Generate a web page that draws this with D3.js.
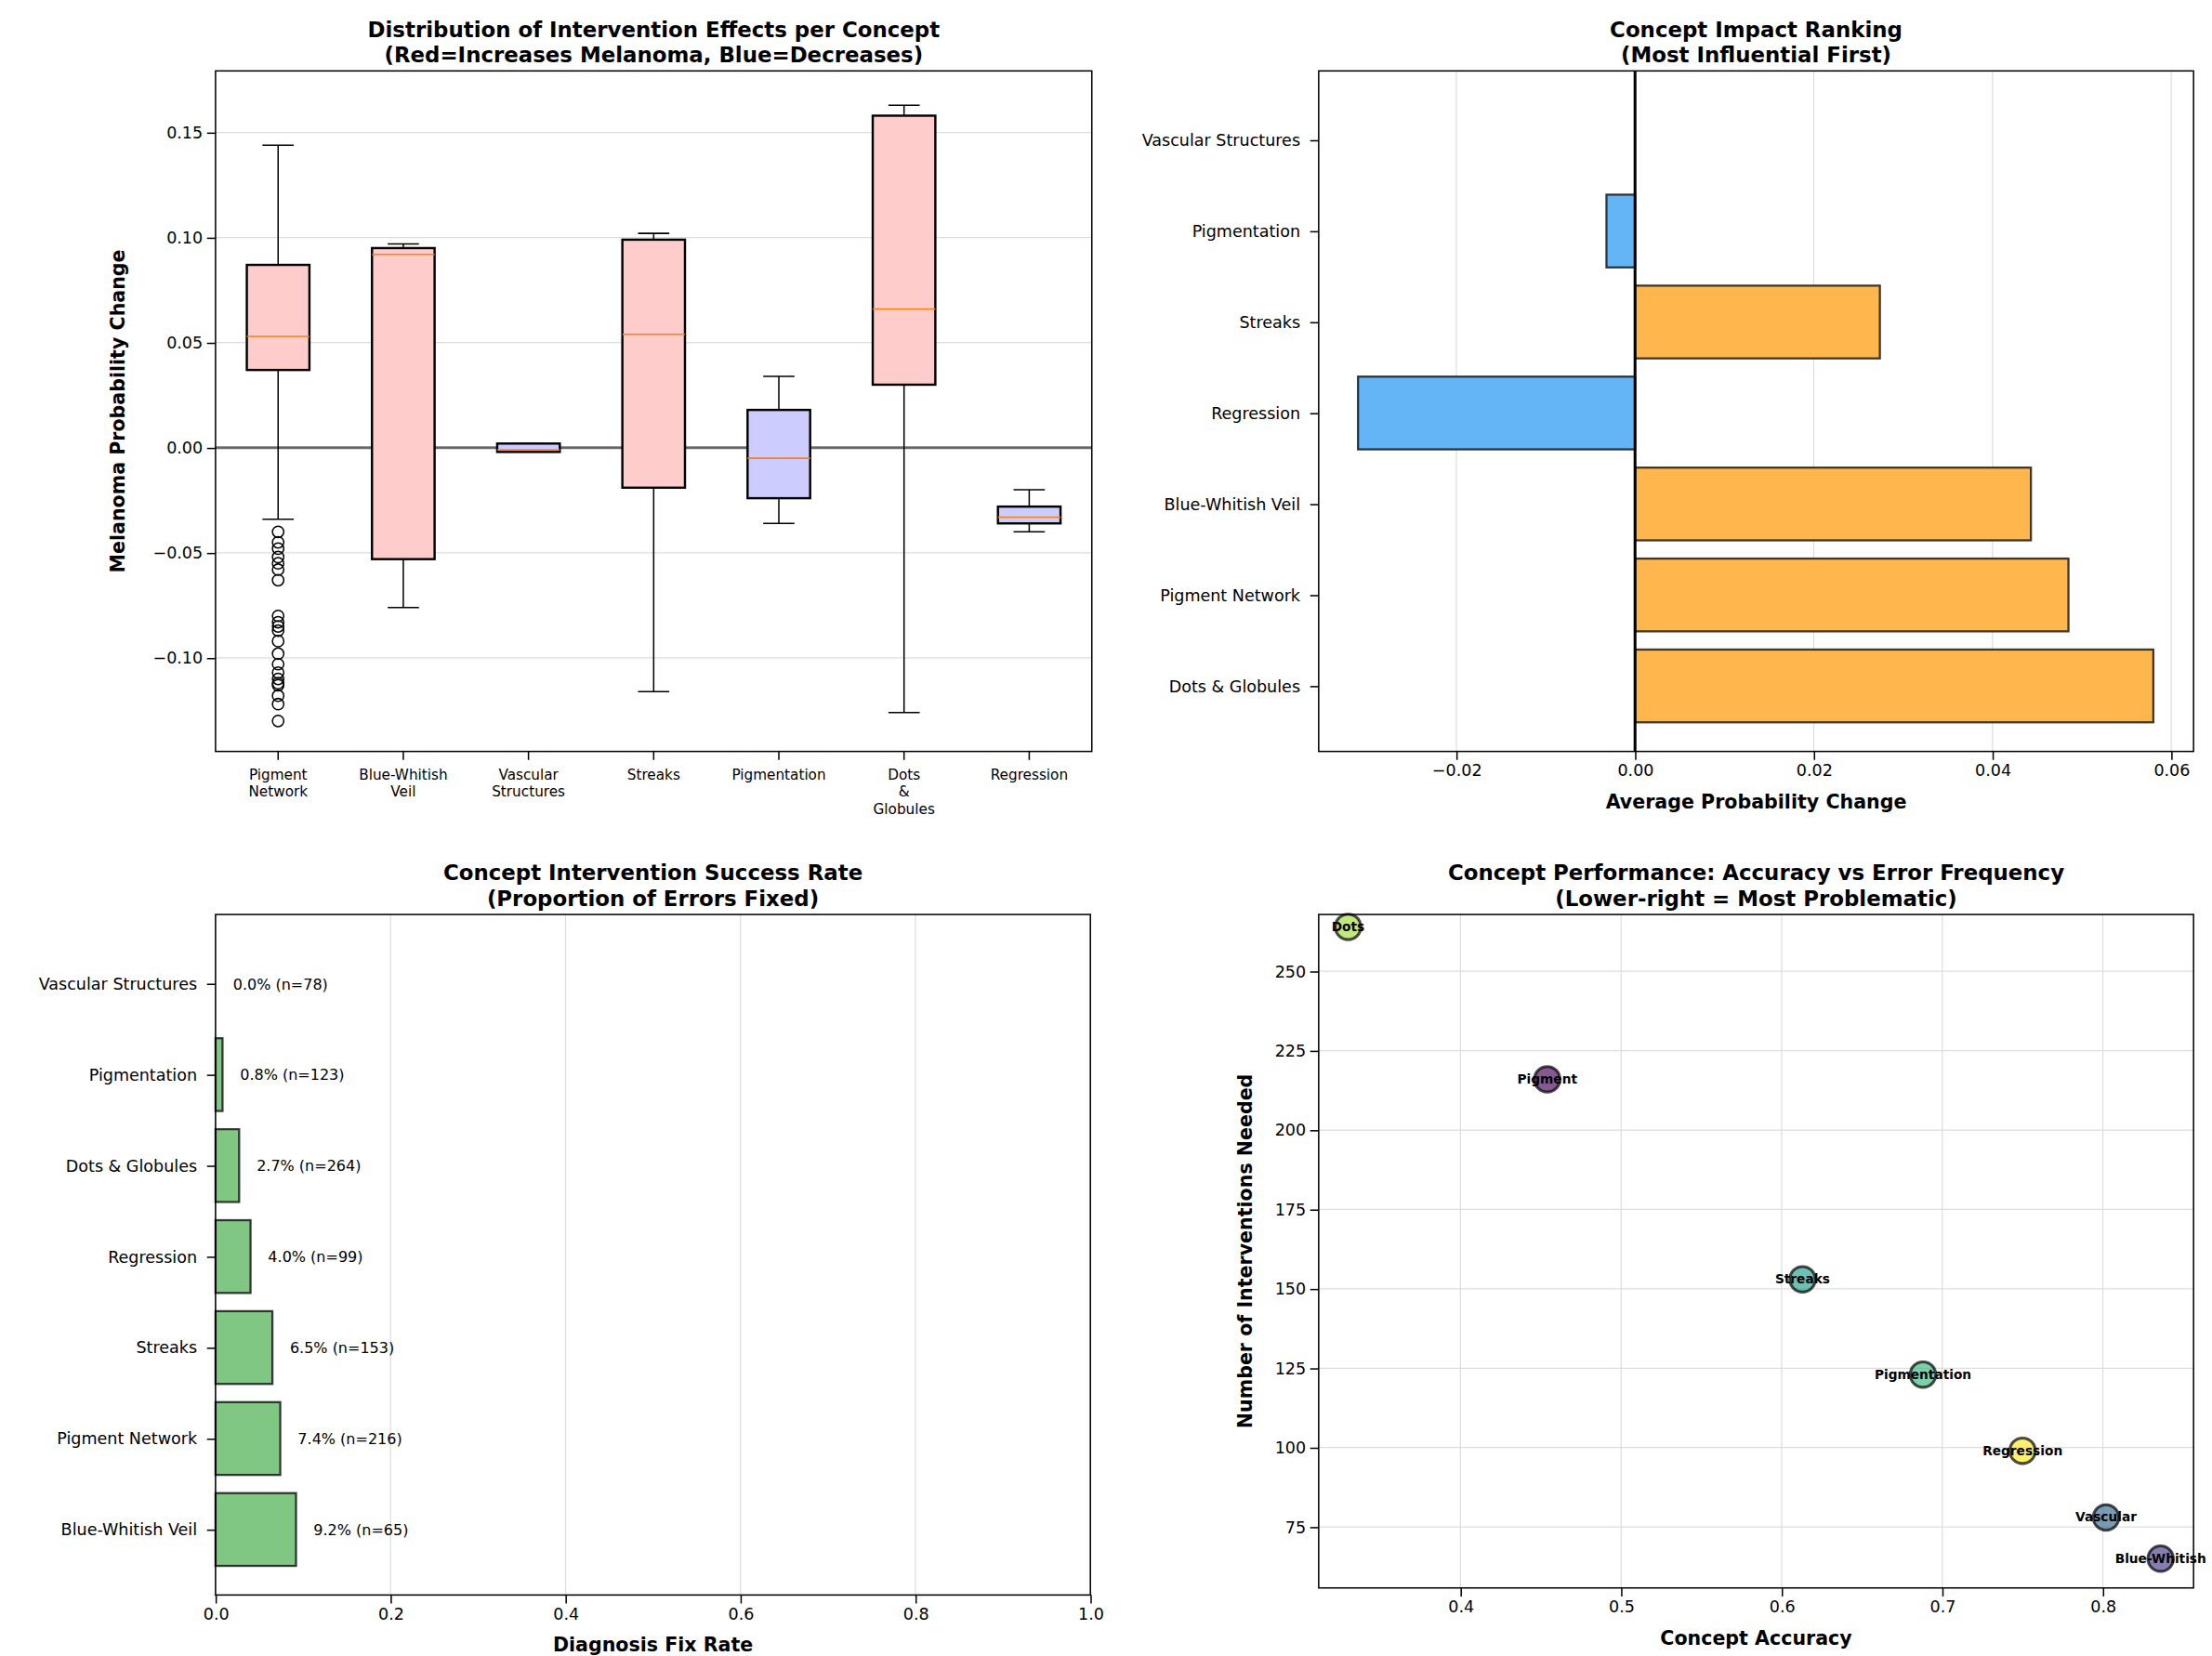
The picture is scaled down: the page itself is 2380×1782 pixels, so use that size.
<!DOCTYPE html>
<html><head><meta charset="utf-8">
<script src="https://cdn.jsdelivr.net/npm/d3@7"></script>
<style>body{margin:0;background:#fff}text{font-family:"DejaVu Sans",sans-serif}</style>
</head><body><div id="chart"></div>
<script>
// box plot stats per concept: [whiskerLow, q1, median, q3, whiskerHigh]
var boxConcepts = ["Pigment\nNetwork","Blue-Whitish\nVeil","Vascular\nStructures","Streaks","Pigmentation","Dots\n&\nGlobules","Regression"];
var boxStats = [
  [-0.034,0.037,0.053,0.087,0.144],
  [-0.076,-0.053,0.092,0.095,0.097],
  [-0.002,-0.002,-0.001,0.002,0.002],
  [-0.116,-0.019,0.054,0.099,0.102],
  [-0.036,-0.024,-0.005,0.018,0.034],
  [-0.126,0.030,0.066,0.158,0.163],
  [-0.040,-0.036,-0.033,-0.028,-0.020]
];
var boxIncreases = [true,true,false,true,false,true,false];
var pigmentOutliers = [-0.040,-0.045,-0.048,-0.052,-0.055,-0.058,-0.063,-0.080,-0.083,-0.085,-0.087,-0.092,-0.098,-0.103,-0.107,-0.110,-0.112,-0.113,-0.118,-0.122,-0.130];

var impactConcepts = ["Dots & Globules","Pigment Network","Blue-Whitish Veil","Regression","Streaks","Pigmentation","Vascular Structures"];
var impactValues = [0.058,0.0485,0.0443,-0.031,0.0274,-0.0032,0.0];

var fixConcepts = ["Blue-Whitish Veil","Pigment Network","Streaks","Regression","Dots & Globules","Pigmentation","Vascular Structures"];
var fixRates = [0.092,0.074,0.065,0.040,0.027,0.008,0.0];
var fixCounts = [65,216,153,99,264,123,78];

var perfNames = ["Dots","Pigment","Streaks","Pigmentation","Regression","Vascular","Blue-Whitish"];
var perfAccuracy = [0.330,0.454,0.613,0.688,0.750,0.802,0.836];
var perfCount = [264,216,153,123,99,78,65];
var perfColors = ["#a0da39","#440154","#1f9e89","#35b779","#fde725","#31688e","#443983"];

var svg = d3.select("#chart").append("svg").attr("width",2380).attr("height",1782)
  .attr("viewBox","0 0 1560 1168");
svg.append("rect").attr("width",1560).attr("height",1168).attr("fill","#fff");

function frame(g,w,h){g.append("rect").attr("width",w).attr("height",h).attr("fill","none").attr("stroke","#000").attr("stroke-width",1);}
function title(g,w,l1,l2){
  var t=g.append("text").attr("x",w/2).attr("y",-24).attr("text-anchor","middle").attr("font-size",15).attr("font-weight","bold");
  t.append("tspan").attr("x",w/2).text(l1);
  t.append("tspan").attr("x",w/2).attr("dy",18).text(l2);
}
function styleAxis(a){a.selectAll("text").attr("font-size",11.5).attr("fill","#000");a.select(".domain").remove();}
var minus = function(f){return function(d){return f(d).replace("-","\u2212");};};

// ---- Panel 1
(function(){
  var w=618,h=480,g=svg.append("g").attr("transform","translate(152,50)");
  var y=d3.scaleLinear().domain([-0.1445,0.1793]).range([h,0]);
  var x=d3.scaleBand().domain(d3.range(7)).range([0,w]).padding(0);
  g.append("g").selectAll("line").data([-0.10,-0.05,0,0.05,0.10,0.15]).join("line")
    .attr("x1",0).attr("x2",w).attr("y1",y).attr("y2",y).attr("stroke","#ddd").attr("stroke-width",0.8);
  g.append("line").attr("x1",0).attr("x2",w).attr("y1",y(0)).attr("y2",y(0)).attr("stroke","#000").attr("stroke-opacity",0.55).attr("stroke-width",2);
  var bw=x.bandwidth()*0.5;
  boxStats.forEach(function(s,i){
    var cx=x(i)+x.bandwidth()/2;
    var b=g.append("g");
    b.append("line").attr("x1",cx).attr("x2",cx).attr("y1",y(s[0])).attr("y2",y(s[1])).attr("stroke","#000");
    b.append("line").attr("x1",cx).attr("x2",cx).attr("y1",y(s[3])).attr("y2",y(s[4])).attr("stroke","#000");
    [s[0],s[4]].forEach(function(v){b.append("line").attr("x1",cx-bw/4).attr("x2",cx+bw/4).attr("y1",y(v)).attr("y2",y(v)).attr("stroke","#000");});
    b.append("rect").attr("x",cx-bw/2).attr("width",bw).attr("y",y(s[3])).attr("height",Math.max(1,y(s[1])-y(s[3])))
      .attr("fill",boxIncreases[i]?"#ffcccc":"#ccccff").attr("stroke","#000").attr("stroke-width",1.6);
    b.append("line").attr("x1",cx-bw/2).attr("x2",cx+bw/2).attr("y1",y(s[2])).attr("y2",y(s[2])).attr("stroke","#ff7f0e").attr("stroke-width",1);
  });
  var cx0=x(0)+x.bandwidth()/2;
  g.selectAll("circle.o").data(pigmentOutliers).join("circle").attr("cx",cx0).attr("cy",y).attr("r",4)
    .attr("fill","none").attr("stroke","#000").attr("stroke-width",1);
  frame(g,w,h);
  var ay=g.append("g").call(d3.axisLeft(y).tickValues([-0.10,-0.05,0,0.05,0.10,0.15]).tickFormat(minus(d3.format(".2f"))).tickSizeOuter(0));
  styleAxis(ay);
  var ax=g.append("g").attr("transform","translate(0,"+h+")").call(d3.axisBottom(x).tickFormat(function(){return "";}));
  ax.select(".domain").remove();
  boxConcepts.forEach(function(c,i){
    var t=g.append("text").attr("x",x(i)+x.bandwidth()/2).attr("y",h+20).attr("text-anchor","middle").attr("font-size",10);
    c.split("\n").forEach(function(p,j){t.append("tspan").attr("x",x(i)+x.bandwidth()/2).attr("dy",j?12:0).text(p);});
  });
  g.append("text").attr("transform","translate(-64,"+h/2+") rotate(-90)").attr("text-anchor","middle").attr("font-size",13.5).attr("font-weight","bold").text("Melanoma Probability Change");
  title(g,w,"Distribution of Intervention Effects per Concept","(Red=Increases Melanoma, Blue=Decreases)");
})();

// horizontal bar panel helper
function hbars(tx,ty,cats,vals,xdom,ticks,fmt,colorFn,xlabel,t1,t2,labels){
  var w=617,h=480,g=svg.append("g").attr("transform","translate("+tx+","+ty+")");
  var x=d3.scaleLinear().domain(xdom).range([0,w]);
  var y=d3.scaleLinear().domain([-0.72,6.76]).range([h,0]);
  g.append("g").selectAll("line").data(ticks).join("line").attr("x1",x).attr("x2",x).attr("y1",0).attr("y2",h).attr("stroke","#ddd").attr("stroke-width",0.8);
  g.selectAll("rect.b").data(vals).join("rect")
    .attr("x",function(d){return x(Math.min(0,d));}).attr("width",function(d){return Math.abs(x(d)-x(0));})
    .attr("y",function(d,i){return y(i+0.4);}).attr("height",y(0)-y(0.8))
    .attr("fill",colorFn).attr("stroke","#000").attr("stroke-opacity",0.75).attr("stroke-width",1.5);
  frame(g,w,h);
  var ax=g.append("g").attr("transform","translate(0,"+h+")").call(d3.axisBottom(x).tickValues(ticks).tickFormat(fmt).tickSizeOuter(0));
  styleAxis(ax);
  var ay=g.append("g").call(d3.axisLeft(y).tickValues(d3.range(7)).tickFormat(function(d){return cats[d];}).tickSizeOuter(0));
  styleAxis(ay); ay.selectAll("text").attr("dx",-4);
  g.append("text").attr("x",w/2).attr("y",h+40).attr("text-anchor","middle").attr("font-size",13.5).attr("font-weight","bold").text(xlabel);
  title(g,w,t1,t2);
  if(labels) vals.forEach(function(v,i){
    g.append("text").attr("x",x(v+0.02)).attr("y",y(i)+4).attr("font-size",10.5).text(labels[i]);
  });
  return {g:g,x:x,y:y};
}

var p2=hbars(930,50,impactConcepts,impactValues,[-0.0354,0.0625],[-0.02,0,0.02,0.04,0.06],minus(d3.format(".2f")),
  function(d){return d<0?"#64b5f6":"#ffb74d";},"Average Probability Change","Concept Impact Ranking","(Most Influential First)");
p2.g.append("line").attr("x1",p2.x(0)).attr("x2",p2.x(0)).attr("y1",0).attr("y2",480).attr("stroke","#000").attr("stroke-width",2);

hbars(152,645,fixConcepts,fixRates,[0,1],[0,0.2,0.4,0.6,0.8,1.0],function(d){return d===0?"0.0":d3.format(".1f")(d);},
  function(){return "#81c784";},"Diagnosis Fix Rate","Concept Intervention Success Rate","(Proportion of Errors Fixed)",
  fixRates.map(function(r,i){return (r*100).toFixed(1)+"% (n="+fixCounts[i]+")";}));

// ---- Panel 4
(function(){
  var w=617,h=475,g=svg.append("g").attr("transform","translate(930,645)");
  var x=d3.scaleLinear().domain([0.3117,0.8565]).range([0,w]);
  var y=d3.scaleLinear().domain([55.8,267.9]).range([h,0]);
  var xt=[0.4,0.5,0.6,0.7,0.8],yt=[75,100,125,150,175,200,225,250];
  g.append("g").selectAll("line").data(xt).join("line").attr("x1",x).attr("x2",x).attr("y1",0).attr("y2",h).attr("stroke","#ddd").attr("stroke-width",0.8);
  g.append("g").selectAll("line").data(yt).join("line").attr("y1",y).attr("y2",y).attr("x1",0).attr("x2",w).attr("stroke","#ddd").attr("stroke-width",0.8);
  perfNames.forEach(function(n,i){
    g.append("circle").attr("cx",x(perfAccuracy[i])).attr("cy",y(perfCount[i])).attr("r",9)
      .attr("fill",perfColors[i]).attr("fill-opacity",0.65).attr("stroke","#000").attr("stroke-opacity",0.7).attr("stroke-width",2);
    g.append("text").attr("x",x(perfAccuracy[i])).attr("y",y(perfCount[i])+3).attr("text-anchor","middle")
      .attr("font-size",9).attr("font-weight","bold").text(n);
  });
  frame(g,w,h);
  styleAxis(g.append("g").attr("transform","translate(0,"+h+")").call(d3.axisBottom(x).tickValues(xt).tickFormat(d3.format(".1f")).tickSizeOuter(0)));
  styleAxis(g.append("g").call(d3.axisLeft(y).tickValues(yt).tickSizeOuter(0)));
  g.append("text").attr("x",w/2).attr("y",h+40).attr("text-anchor","middle").attr("font-size",13.5).attr("font-weight","bold").text("Concept Accuracy");
  g.append("text").attr("transform","translate(-47,"+h/2+") rotate(-90)").attr("text-anchor","middle").attr("font-size",13.5).attr("font-weight","bold").text("Number of Interventions Needed");
  title(g,w,"Concept Performance: Accuracy vs Error Frequency","(Lower-right = Most Problematic)");
})();
</script></body></html>
